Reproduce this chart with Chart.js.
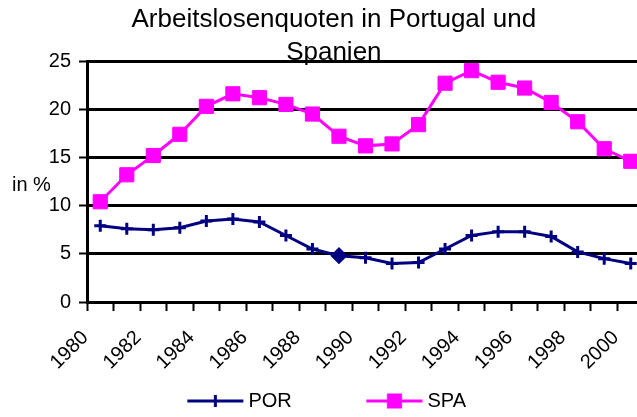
<!DOCTYPE html>
<html lang="de">
<head>
<meta charset="utf-8">
<title>Arbeitslosenquoten in Portugal und Spanien</title>
<script src="https://cdn.jsdelivr.net/npm/chart.js@4.4.1/dist/chart.umd.min.js"></script>
<style>
  html, body { margin: 0; padding: 0; background: #fff; overflow: hidden; }
  #wrap { width: 645px; height: 417px; }
</style>
</head>
<body>
<div id="wrap"><canvas id="chart" width="645" height="417"></canvas></div>
<script>
// Arbeitslosenquoten Portugal / Spanien 1980-2000
const years = ['1980', '1981', '1982', '1983', '1984', '1985', '1986', '1987', '1988', '1989', '1990',
               '1991', '1992', '1993', '1994', '1995', '1996', '1997', '1998', '1999', '2000'];
const porValues = [7.9, 7.6, 7.5, 7.7, 8.4, 8.6, 8.3, 6.9, 5.5, 4.8, 4.6,
                   4.0, 4.1, 5.5, 6.9, 7.3, 7.3, 6.8, 5.2, 4.5, 4.0];
const spaValues = [10.4, 13.2, 15.2, 17.4, 20.3, 21.6, 21.2, 20.5, 19.5, 17.2, 16.2,
                   16.4, 18.4, 22.7, 24.0, 22.8, 22.2, 20.7, 18.7, 15.9, 14.6];
const yTickValues = [0, 5, 10, 15, 20, 25];
const titleLines = ['Arbeitslosenquoten in Portugal und', 'Spanien'];
const seriesNames = ['POR', 'SPA'];
const yUnit = 'in %';
const markedYear = '1989';   // einzelner Punkt als Raute

const NAVY = '#000080';
const MAGENTA = '#FF00FF';
const FONT = 'Liberation Sans, Arial, sans-serif';

Chart.defaults.font.family = FONT;
Chart.defaults.color = '#000';

// legend symbol = kurze Linie mit Marker (wie Excel)
const LEGEND_BOX = 36.7;
function legendIcon(color, marker) {
  const c = document.createElement('canvas');
  c.width = 66; c.height = 18;
  const g = c.getContext('2d');
  const lineEnd = c.width / 2 + LEGEND_BOX / 2 + 5;
  const lineStart = lineEnd - 56;
  const mid = (lineStart + lineEnd) / 2;
  g.strokeStyle = color;
  g.fillStyle = color;
  g.lineWidth = 3;
  g.beginPath();
  g.moveTo(lineStart, 9); g.lineTo(lineEnd, 9);
  g.stroke();
  if (marker === 'cross') {
    g.beginPath();
    g.moveTo(mid, 3); g.lineTo(mid, 15);
    g.stroke();
  } else {
    g.fillRect(mid - 7.5, 1.5, 15, 15);
  }
  return c;
}
const legendIcons = [legendIcon(NAVY, 'cross'), legendIcon(MAGENTA, 'rect')];

const yTitlePlugin = {
  id: 'yTitle',
  afterDraw(chart) {
    const ctx = chart.ctx;
    ctx.save();
    ctx.font = '20px ' + FONT;
    ctx.fillStyle = '#000';
    ctx.textBaseline = 'middle';
    ctx.textAlign = 'left';
    ctx.fillText(yUnit, 12, 185);
    ctx.restore();
  }
};

new Chart(document.getElementById('chart'), {
  type: 'line',
  data: {
    labels: years,
    datasets: [
      {
        label: seriesNames[0],
        data: porValues,
        borderColor: NAVY,
        backgroundColor: NAVY,
        borderWidth: 3,
        tension: 0,
        pointStyle: years.map(y => y === markedYear ? 'rectRot' : 'cross'),
        pointRadius: years.map(y => y === markedYear ? 6.5 : 6),
        pointBorderWidth: 3,
        pointBorderColor: NAVY,
        pointBackgroundColor: NAVY,
        pointHoverRadius: 6
      },
      {
        label: seriesNames[1],
        data: spaValues,
        borderColor: MAGENTA,
        backgroundColor: MAGENTA,
        borderWidth: 3,
        tension: 0,
        pointStyle: 'rect',
        pointRadius: 10,
        pointBorderWidth: 1,
        pointBorderColor: MAGENTA,
        pointBackgroundColor: MAGENTA,
        pointHoverRadius: 10
      }
    ]
  },
  options: {
    responsive: false,
    animation: false,
    layout: { autoPadding: false, padding: { left: 23.7, right: 1, top: 0, bottom: -4 } },
    plugins: {
      title: {
        display: true,
        text: titleLines,
        color: '#000',
        font: { size: 26, weight: 'normal', lineHeight: 1.27 },
        padding: { top: 3, bottom: -8 }
      },
      legend: {
        position: 'bottom',
        labels: {
          usePointStyle: true,
          pointStyleWidth: LEGEND_BOX,
          padding: 89,
          color: '#000',
          font: { size: 20 },
          generateLabels: chart => Chart.defaults.plugins.legend.labels.generateLabels(chart)
            .map((item, i) => ({ ...item, pointStyle: legendIcons[i], rotation: 0 }))
        }
      },
      tooltip: { enabled: false }
    },
    scales: {
      x: {
        position: { y: 0 },
        offset: true,
        afterFit: s => { s.paddingLeft = 0; s.paddingRight = 0; },
        grid: { display: true, offset: true, drawOnChartArea: false, drawTicks: true, tickLength: 7, tickWidth: 2, color: '#000' },
        border: { display: true, color: '#000', width: 3 },
        ticks: {
          autoSkip: false,
          minRotation: 45,
          maxRotation: 45,
          labelOffset: -15,
          padding: 17,
          color: '#000',
          font: { size: 20 },
          callback: (v, i) => i % 2 === 0 ? years[i] : ''
        }
      },
      y: {
        min: 0,
        max: 25,
        afterFit: s => { s.width = 63.3; },
        afterBuildTicks: s => { s.ticks = yTickValues.map(v => ({ value: v })); },
        grid: { color: '#000', lineWidth: 3, tickLength: 8, tickWidth: 2 },
        border: { display: true, color: '#000', width: 3 },
        ticks: { padding: 8, color: '#000', font: { size: 20 } }
      }
    }
  },
  plugins: [yTitlePlugin]
});
</script>
</body>
</html>
